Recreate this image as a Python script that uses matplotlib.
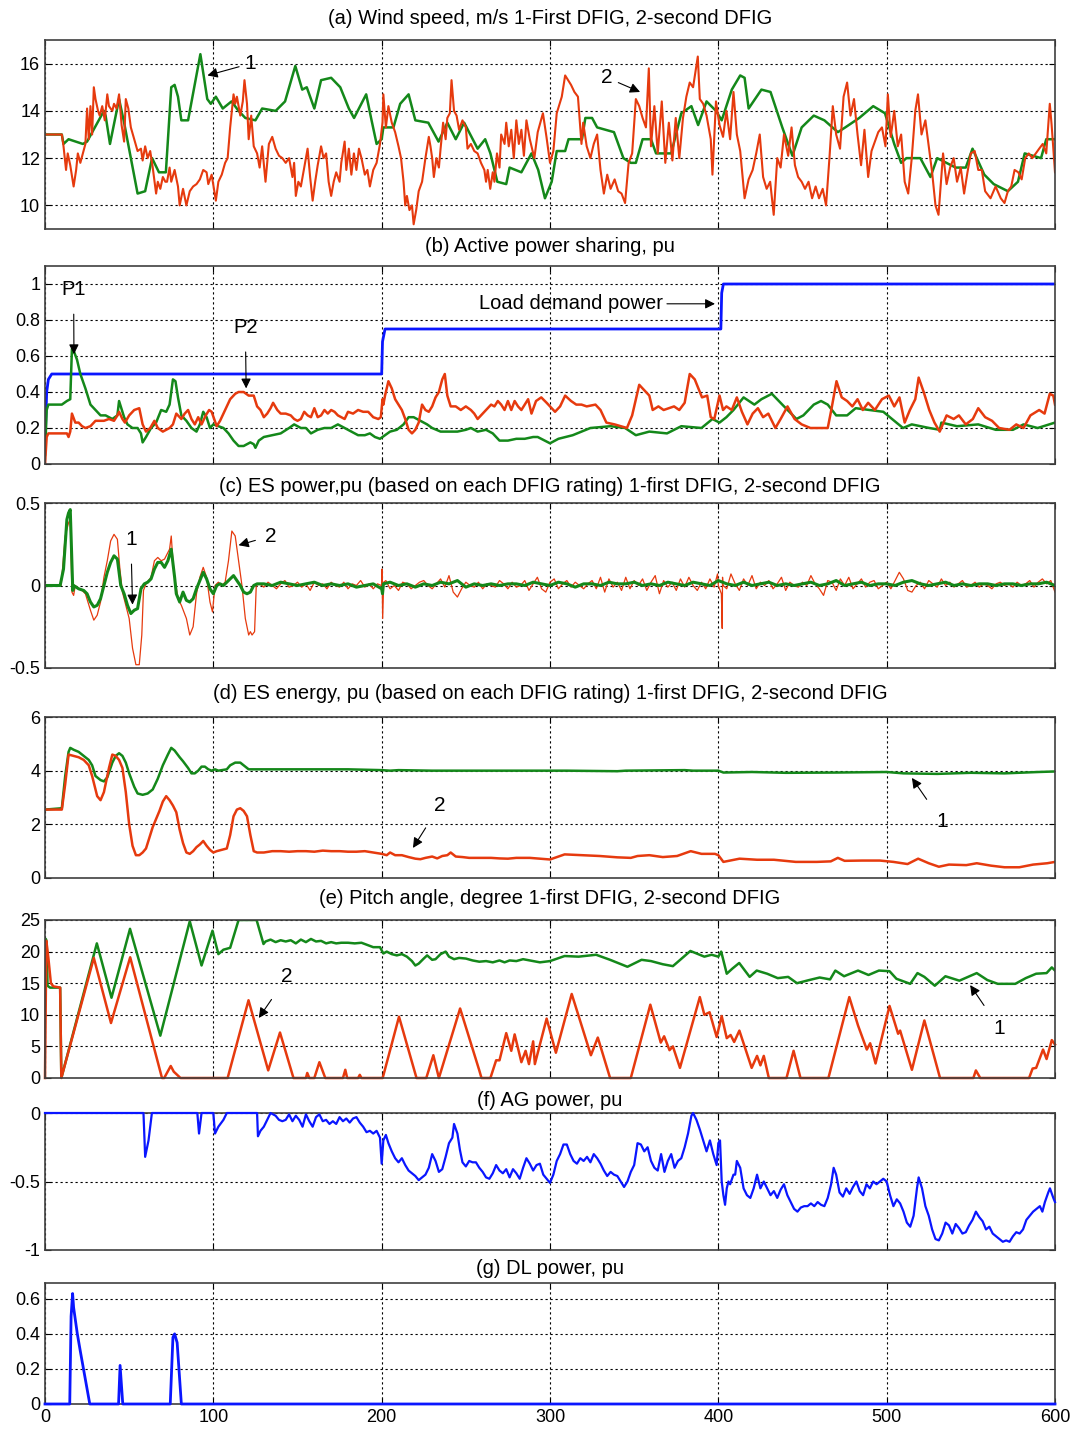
import numpy as np
import matplotlib.pyplot as plt
from matplotlib.ticker import FuncFormatter

plt.rcParams['font.family'] = ['Liberation Sans', 'DejaVu Sans']

RED = '#e63a0e'
GREEN = '#14881a'
BLUE = '#0a16ff'

# ---------------- (a) wind speed, m/s ----------------
wind1 = [(0, 13.0), (10, 13.0), (11, 12.6), (14, 12.8), (22.5, 12.6), (25, 12.7), (35, 14.0), (36, 13.8),
         (38.6, 12.6), (44, 14.5), (47, 13.5), (55, 10.5), (59.5, 10.6), (63.6, 12.0), (67.7, 11.4),
         (71.8, 11.4), (75, 15.0), (77, 15.1), (79, 14.6), (81, 13.6), (85, 13.6), (92.3, 16.4),
         (96.4, 14.5), (98.5, 14.3), (101.5, 14.6), (105.6, 14.1), (110.8, 14.4), (115, 14.0),
         (119, 13.7), (125, 13.6), (129, 14.1), (137, 14.0), (142.6, 14.4), (148.7, 15.9), (152.8, 14.9),
         (155.5, 15.0), (160, 14.1), (164, 15.3), (170, 15.4), (175.4, 15.0), (180.5, 14.1), (183.6, 13.7),
         (190.8, 14.7), (194, 13.6), (197, 12.6), (200, 12.8), (201, 13.3), (207, 13.3), (211, 14.3),
         (216, 14.7), (220, 13.6), (227.7, 13.5), (233.8, 12.7), (239, 13.5), (244, 12.8), (249, 13.5),
         (257, 12.4), (261.5, 12.8), (264.6, 12.2), (268.7, 11.0), (274, 10.9), (276, 11.6), (283, 11.4),
         (289, 12.2), (293, 11.5), (297, 10.3), (301, 11.0), (304, 12.3), (309, 12.3), (311, 12.8),
         (319, 12.8), (321, 13.7), (325, 13.7), (328, 13.3), (338, 13.1), (343.6, 12.0), (348, 11.8),
         (351, 11.8), (355, 12.8), (360, 12.8), (363, 12.2), (372, 12.2), (378, 13.9), (384, 14.2),
         (388, 13.4), (393, 14.4), (398.6, 14.0), (402, 13.6), (408, 14.9), (413, 15.5), (415.6, 15.4),
         (418, 14.1), (425.6, 14.9), (431, 14.8), (438, 13.3), (444, 12.1), (449.5, 13.3), (456.7, 13.8),
         (463, 13.6), (471, 13.1), (475.4, 13.3), (483.7, 13.7), (492, 14.2), (499, 13.9), (504.5, 12.6),
         (508.6, 11.8), (511.7, 12.0), (520, 12.0), (526, 11.2), (530, 12.0), (541, 11.6), (547, 11.6),
         (551, 12.4), (558, 11.3), (563.6, 10.9), (572, 10.6), (578, 11.0), (582, 12.2), (591.7, 12.0),
         (594.8, 12.8), (600, 12.8)]

wind2 = [(0, 13.0), (10, 13.0), (11, 12.5), (12.5, 11.5), (13.5, 12.2), (15, 11.7), (17, 10.8), (18.5, 11.5),
         (19.5, 12.2), (21, 11.8), (22.5, 12.2), (24, 12.6), (25, 14.1), (26, 12.8), (27, 14.2), (28, 13.0),
         (29, 15.0), (30, 14.5), (31.5, 14.0), (32.5, 13.8), (34, 14.2), (35.5, 13.6), (37, 14.7), (38, 14.2),
         (40, 14.0), (41, 14.3), (42.5, 14.1), (44, 14.7), (45.5, 13.4), (47, 12.7), (48, 14.5), (49.5, 14.1),
         (51, 13.3), (53, 12.8), (55, 12.3), (57, 12.4), (58, 11.9), (59.5, 12.5), (61, 12.0), (62.5, 12.3),
         (64, 11.6), (66, 10.5), (67, 11.0), (68.5, 10.7), (70, 11.2), (71.5, 11.0), (72.5, 11.0), (74, 11.6),
         (75, 11.0), (77, 11.5), (79, 10.8), (80, 10.0), (82, 10.7), (84, 10.0), (86, 10.6), (88, 10.8),
         (90, 10.9), (92, 11.1), (94, 11.5), (96, 11.4), (97, 10.9), (99, 11.3), (101.5, 10.2), (103, 11.0),
         (105, 11.3), (107, 11.8), (108.5, 12.0), (110, 13.3), (112, 14.7), (113, 14.3), (114, 14.6),
         (116, 13.8), (117.5, 14.4), (118.5, 15.3), (120, 14.3), (121, 12.8), (122.5, 13.8), (124, 12.5),
         (126, 12.2), (127.5, 11.6), (129, 12.5), (131, 11.0), (133, 12.6), (135, 12.9), (137, 12.4),
         (139, 12.1), (141, 12.0), (143, 11.8), (145, 12.0), (147, 11.2), (148, 11.8), (149, 10.4),
         (150.5, 11.0), (152, 10.8), (154, 11.6), (156, 12.4), (157.5, 11.2), (159, 10.2), (160.5, 11.0),
         (162, 11.7), (164, 12.5), (165.5, 12.0), (167, 12.2), (168.5, 11.0), (170, 10.4), (171.5, 11.0),
         (173, 11.4), (175, 11.0), (176, 11.8), (178, 12.7), (179, 11.5), (180.5, 12.4), (182, 11.3),
         (183.5, 12.2), (185, 11.5), (186.5, 12.4), (188, 12.0), (190, 11.3), (191.5, 11.5), (193, 10.8),
         (195, 11.5), (197, 11.8), (199, 12.6), (200.5, 13.5), (201, 14.7), (202.5, 13.3), (204, 14.2),
         (206, 13.5), (208, 13.1), (210, 12.5), (211.5, 12.0), (213, 11.0), (214, 10.0), (215, 10.4),
         (216.5, 9.8), (218, 10.0), (219, 9.2), (220.5, 9.8), (222, 10.6), (224, 11.0), (226, 12.0),
         (228, 12.9), (229, 12.5), (230, 12.0), (231, 11.2), (232.5, 12.0), (234, 11.6), (235, 12.4),
         (236.5, 13.5), (238, 12.8), (239, 13.7), (240.5, 13.9), (241.5, 15.3), (243, 14.0), (244.5, 13.8),
         (246, 13.2), (248, 13.6), (250, 13.3), (251, 12.4), (253, 12.6), (255, 12.3), (257, 12.2),
         (259, 11.8), (261, 11.5), (262, 11.0), (263, 11.5), (264.5, 10.7), (266, 11.4), (267, 11.0),
         (268.5, 12.2), (270, 11.6), (271, 13.0), (273, 12.6), (274, 13.5), (275.5, 12.5), (277, 13.2),
         (278.5, 12.0), (280, 13.6), (281.5, 12.6), (283, 13.2), (284.5, 12.1), (286, 13.6), (288, 12.8),
         (290.7, 12.0), (292.7, 13.1), (295.8, 13.9), (297.9, 12.9), (300, 11.8), (302, 12.3), (304, 13.9),
         (307, 14.6), (309, 15.5), (312.5, 15.1), (314.5, 14.8), (316.6, 14.6), (318.7, 12.6), (319.7, 13.5),
         (321.8, 12.5), (324, 12.0), (326, 12.6), (328, 13.0), (330, 11.5), (332, 10.5), (334, 11.3),
         (336, 10.7), (338.4, 11.1), (340.5, 10.6), (342.5, 10.5), (344.6, 10.1), (346.7, 11.8),
         (348.8, 12.2), (351, 14.5), (353, 14.2), (355, 13.7), (357, 13.3), (358.7, 15.8), (360, 12.5),
         (362, 14.2), (364, 12.2), (366.4, 14.4), (368.5, 11.8), (370.6, 13.5), (372.7, 11.9), (374.7, 13.7),
         (376.8, 12.0), (379, 13.7), (381, 14.6), (383, 15.2), (385, 15.0), (387.8, 16.3), (389, 14.5),
         (391, 14.3), (393, 13.8), (395.5, 12.8), (396.5, 11.3), (398.6, 14.4), (400.7, 13.4), (402.8, 12.9),
         (404.8, 14.0), (407, 12.8), (409, 14.8), (411, 13.0), (413, 12.3), (415.6, 10.3), (418, 11.1),
         (420.4, 11.5), (422.5, 12.2), (424.6, 13.0), (426.6, 11.2), (428.7, 10.7), (430.8, 11.0),
         (432.9, 9.6), (435, 12.0), (437, 11.6), (439, 13.0), (441.5, 12.1), (443.5, 13.3), (445.5, 11.7),
         (447.4, 11.2), (449.5, 11.0), (451.5, 10.7), (453.6, 11.0), (455.7, 10.3), (457.8, 10.8),
         (459.8, 10.3), (462, 10.7), (464, 10.0), (466, 12.0), (468, 14.2), (470, 13.0), (472.3, 12.4),
         (474.4, 14.6), (476.5, 15.2), (478.5, 13.8), (480.6, 14.5), (482.7, 13.0), (484.8, 11.7),
         (486.8, 13.2), (489, 11.2), (491, 12.3), (493, 12.7), (495, 13.1), (497.2, 13.3), (499.3, 12.5),
         (500.7, 14.7), (502.4, 12.9), (504.5, 14.0), (506.6, 12.5), (508.6, 13.0), (510.7, 11.0),
         (512.8, 10.5), (514.9, 12.0), (517, 14.0), (518.6, 14.7), (520.7, 13.0), (523, 13.6), (525, 12.5),
         (527, 11.4), (529, 10.0), (530.8, 9.6), (533.5, 12.2), (535.6, 10.9), (537.7, 11.6), (539.8, 12.0),
         (541.8, 11.0), (544, 11.6), (546, 10.5), (548, 11.4), (550, 12.2), (552.3, 12.3), (554.4, 11.5),
         (556.5, 11.5), (558.5, 10.6), (561.7, 10.3), (564.7, 10.8), (567.8, 10.3), (570, 10.1), (572, 10.6),
         (574, 10.8), (576, 11.5), (578.2, 11.4), (580.2, 11.1), (582.3, 12.0), (584.4, 12.2), (586.5, 12.0),
         (588.6, 12.2), (590.6, 12.4), (592.7, 12.6), (594.8, 12.2), (596.9, 14.3), (598, 13.4), (600, 11.4)]

# ---------------- (b) active power sharing, pu ----------------
load_demand = [(0, 0.1), (1, 0.4), (2, 0.47), (4, 0.5), (200, 0.5), (200.5, 0.68), (202, 0.75),
               (401.5, 0.75), (402, 0.95), (403, 1.0), (600, 1.0)]

p1 = [(0, 0.05), (1, 0.3), (2, 0.33), (10, 0.33), (13, 0.35), (15, 0.36), (16, 0.64), (17, 0.63), (19, 0.58),
      (21, 0.5), (24, 0.42), (27, 0.33), (30, 0.3), (33, 0.27), (36, 0.27), (38, 0.26), (40, 0.25), (43, 0.27),
      (44, 0.35), (45, 0.32), (47, 0.26), (49, 0.22), (52, 0.2), (55, 0.2), (57, 0.17), (58, 0.12), (60, 0.15),
      (63, 0.2), (66, 0.23), (69, 0.3), (72, 0.29), (74, 0.33), (76, 0.47), (77.5, 0.46), (79, 0.37),
      (81, 0.27), (84, 0.24), (87, 0.2), (90, 0.18), (92, 0.22), (94, 0.29), (96, 0.26), (98, 0.2),
      (100, 0.22), (103, 0.21), (106, 0.2), (109, 0.17), (112, 0.13), (115, 0.1), (118, 0.1), (120, 0.11),
      (122, 0.12), (124, 0.11), (125, 0.09), (127, 0.13), (130, 0.15), (135, 0.16), (140, 0.17), (145, 0.2),
      (148, 0.22), (152, 0.2), (155, 0.2), (158, 0.17), (162, 0.19), (166, 0.2), (170, 0.2), (174, 0.22),
      (178, 0.2), (182, 0.18), (186, 0.16), (190, 0.16), (193, 0.17), (196, 0.15), (199, 0.14), (202, 0.16),
      (205, 0.18), (209, 0.19), (213, 0.22), (216, 0.26), (219, 0.26), (223, 0.24), (227, 0.22), (230, 0.2),
      (235, 0.18), (240, 0.18), (245, 0.18), (250, 0.19), (253, 0.2), (257, 0.18), (262, 0.19), (266, 0.17),
      (270, 0.13), (275, 0.13), (280, 0.14), (285, 0.14), (290, 0.15), (292.7, 0.15), (300, 0.115),
      (305, 0.14), (313.5, 0.16), (324, 0.2), (336, 0.21), (344.6, 0.2), (351, 0.16), (359, 0.18),
      (369.5, 0.17), (378, 0.21), (390, 0.2), (396.5, 0.25), (400.7, 0.23), (404.8, 0.26), (409, 0.3),
      (415, 0.37), (421.4, 0.33), (425.6, 0.36), (431.8, 0.39), (438, 0.33), (446.4, 0.25), (450.5, 0.27),
      (456.7, 0.33), (461, 0.35), (465, 0.33), (470, 0.27), (476.5, 0.27), (481.6, 0.31), (490, 0.3),
      (498, 0.29), (504.5, 0.24), (509.7, 0.2), (514.9, 0.22), (525.3, 0.2), (531.6, 0.19), (532.5, 0.23),
      (541.8, 0.21), (554.4, 0.22), (564.8, 0.19), (575, 0.19), (581.3, 0.22), (589.7, 0.2), (600, 0.23)]

p2 = [(0, 0.0), (0.5, 0.08), (1, 0.15), (2, 0.17), (13, 0.17), (14, 0.15), (15, 0.18), (16, 0.28), (18, 0.23),
      (20, 0.23), (22, 0.21), (24, 0.2), (27, 0.21), (30, 0.24), (35, 0.24), (38, 0.25), (41, 0.24), (43, 0.27),
      (44, 0.29), (46, 0.25), (47.5, 0.23), (50, 0.27), (53, 0.3), (56, 0.31), (58, 0.22), (60, 0.18),
      (62.5, 0.2), (65, 0.24), (67, 0.2), (70, 0.18), (72, 0.19), (74, 0.2), (76, 0.22), (78, 0.28), (81, 0.25),
      (83, 0.28), (85, 0.3), (87, 0.25), (89, 0.22), (91, 0.26), (93, 0.22), (95.5, 0.27), (97.5, 0.3),
      (99, 0.29), (100.5, 0.25), (102, 0.21), (104, 0.24), (106, 0.28), (108, 0.32), (110, 0.36), (113, 0.39),
      (115, 0.4), (118, 0.4), (121, 0.38), (124, 0.38), (126, 0.32), (128, 0.3), (130, 0.26), (132, 0.28),
      (134, 0.31), (135.5, 0.34), (138, 0.3), (140, 0.28), (143, 0.28), (146, 0.27), (148, 0.25), (150, 0.24),
      (152, 0.25), (154, 0.29), (156, 0.27), (158, 0.26), (160, 0.31), (162, 0.26), (164, 0.27), (166, 0.3),
      (168, 0.28), (170, 0.3), (172, 0.29), (174, 0.27), (176, 0.26), (178, 0.25), (180, 0.29), (183, 0.28),
      (186, 0.3), (189, 0.29), (192, 0.29), (195, 0.26), (198, 0.25), (199.5, 0.26), (200.5, 0.36), (201, 0.33),
      (202, 0.38), (204, 0.46), (206, 0.42), (208, 0.36), (210, 0.33), (212, 0.3), (214, 0.25), (216, 0.19),
      (218, 0.17), (220, 0.19), (222, 0.23), (224, 0.33), (226, 0.3), (228, 0.29), (230, 0.32), (232, 0.37),
      (234, 0.4), (236, 0.47), (237.5, 0.5), (239, 0.38), (241, 0.32), (244, 0.32), (247, 0.3), (250, 0.32),
      (253, 0.3), (255, 0.28), (257, 0.25), (260, 0.28), (262, 0.3), (265, 0.33), (267, 0.32), (269, 0.35),
      (271, 0.33), (273, 0.3), (275, 0.35), (277, 0.3), (279, 0.35), (281, 0.32), (283, 0.3), (285, 0.33),
      (287, 0.36), (289, 0.28), (291.7, 0.35), (294.8, 0.37), (298, 0.34), (300, 0.32), (303, 0.29),
      (306, 0.32), (309, 0.38), (312.5, 0.35), (315.6, 0.33), (318.7, 0.33), (321.8, 0.32), (327, 0.33),
      (330, 0.3), (333.5, 0.23), (338.4, 0.22), (345.7, 0.2), (348.8, 0.27), (353, 0.44), (356, 0.41),
      (359, 0.38), (361, 0.3), (364.4, 0.32), (367.5, 0.3), (370.6, 0.31), (373.7, 0.32), (376.8, 0.3),
      (380, 0.34), (383, 0.5), (386, 0.47), (390.3, 0.37), (393.4, 0.38), (395.5, 0.26), (397.6, 0.25),
      (400.7, 0.38), (402.8, 0.3), (404.8, 0.32), (408, 0.3), (411, 0.37), (414, 0.29), (417.3, 0.22),
      (420.4, 0.28), (423.5, 0.31), (426.6, 0.26), (429.7, 0.28), (433.9, 0.2), (437, 0.25), (441.1, 0.32),
      (445.3, 0.25), (449.5, 0.22), (454.7, 0.2), (465, 0.2), (467.1, 0.3), (470.2, 0.46), (473.3, 0.37),
      (476.5, 0.35), (479.6, 0.32), (482.7, 0.36), (485.8, 0.3), (489, 0.34), (493, 0.3), (497.2, 0.36),
      (501.3, 0.38), (504.5, 0.32), (507.6, 0.37), (510.7, 0.23), (513.8, 0.3), (517, 0.36), (519, 0.48),
      (522, 0.4), (525.3, 0.3), (528.4, 0.23), (531.5, 0.18), (535.6, 0.27), (539.8, 0.25), (542.9, 0.27),
      (547, 0.22), (551.2, 0.25), (554.4, 0.31), (558.5, 0.26), (562.6, 0.24), (566.8, 0.2), (573, 0.19),
      (577, 0.22), (581.3, 0.2), (585.4, 0.27), (590.6, 0.3), (593.8, 0.28), (596.9, 0.39), (599, 0.38),
      (600, 0.33)]

# ---------------- (c) ES power, pu ----------------
es_pow1_start = [(0, 0.0), (9, 0.0), (11, 0.1), (13, 0.4), (14, 0.44), (15, 0.46), (16.5, -0.03), (17, 0.0),
                 (20, -0.02), (23, -0.03), (25, -0.05), (27, -0.1), (29, -0.13), (31, -0.12), (33, -0.08),
                 (35, 0.0), (37, 0.08), (39, 0.14), (41, 0.18), (43, 0.16), (45, 0.0), (47, -0.05), (49, -0.12),
                 (51, -0.17), (53, -0.15), (55, -0.14), (57, -0.02), (59, 0.01), (61, 0.02), (63, 0.04),
                 (65, 0.1), (67, 0.14), (69, 0.14), (71, 0.11), (73, 0.15), (75, 0.22), (77, 0.05), (78, -0.05),
                 (80, -0.1), (82, -0.04), (84, -0.09), (86, -0.1), (88, -0.08), (90, -0.02), (92, 0.03),
                 (94, 0.08), (96, 0.04), (98, -0.02), (100, -0.05), (102, 0.0), (104, 0.01), (106, 0.0),
                 (108, 0.02), (110, 0.04), (112, 0.06), (114, 0.03), (116, 0.0), (118, -0.04), (120, -0.05),
                 (122, -0.04), (124, 0.0), (126, 0.01), (200.5, -0.05), (201, 0.01)]
es_pow1_noise = [0.01, 0.0, 0.02, 0.01, 0.0, 0.01, 0.02, 0.0, 0.01, 0.0,
                 0.01, -0.01, 0.0, 0.01, -0.02, 0.02, 0.0, 0.01, -0.01, 0.01,
                 0.0, 0.02, 0.01, 0.03, -0.01, 0.01, 0.0, 0.01, 0.0, 0.01,
                 0.01, 0.0, 0.02, 0.01, 0.0, 0.02, 0.01, -0.01, 0.01, 0.01,
                 0.0, 0.02, 0.01, 0.01, 0.02, 0.0, 0.01, 0.0, 0.02, 0.01,
                 0.0, 0.02, 0.01, 0.0, 0.03, 0.01, 0.0, 0.02, 0.0, 0.01,
                 0.02, 0.0, 0.01, 0.0, 0.01, 0.02, 0.0, 0.01, 0.03, 0.0,
                 0.01, 0.02, 0.0, 0.01, 0.01, 0.0, 0.02, 0.03, 0.01, 0.0,
                 0.01, 0.02, 0.0, 0.01, 0.0, 0.01, 0.01, 0.0, 0.01, 0.01,
                 0.0, 0.01, 0.01, 0.02, 0.0]
es_pow1_noise_t = np.arange(130, 600.1, 5)

es_pow2_start = [(0, 0.0), (9.5, 0.0), (10, 0.05), (12, 0.3), (14, 0.38), (15, 0.4), (16, -0.04), (17, -0.06),
                 (18, 0.0), (20, -0.02), (22, -0.03), (24, -0.05), (27, -0.15), (29, -0.21), (31, -0.18),
                 (33, -0.1), (35, 0.05), (37, 0.15), (39, 0.27), (41, 0.31), (43, 0.28), (44.5, 0.1), (46, -0.04),
                 (48, -0.12), (50, -0.2), (52, -0.38), (54, -0.48), (56, -0.48), (57.5, -0.3), (58.5, -0.03),
                 (60, 0.01), (63, 0.05), (65, 0.15), (67, 0.17), (69, 0.15), (71, 0.16), (73, 0.2), (74, 0.22),
                 (75, 0.3), (76, 0.15), (77, 0.05), (79, -0.08), (81, -0.12), (84, -0.2), (86, -0.3), (88, -0.25),
                 (90, -0.05), (92, 0.05), (94, 0.11), (96, 0.05), (98, -0.1), (99.5, -0.16), (101, 0.0),
                 (103, 0.02), (105, 0.0), (107, 0.02), (109, 0.15), (111, 0.33), (113, 0.3), (115, 0.15),
                 (117, 0.0), (119, -0.2), (121, -0.3), (122, -0.28), (123, -0.3), (124.5, -0.28), (125.5, 0.0),
                 (199.8, 0.0), (200.2, 0.1), (200.6, -0.2), (201.2, 0.02),
                 (399.5, 0.07), (401.8, -0.05), (402.3, -0.26), (402.8, 0.0)]
es_pow2_noise = [0.01, -0.01, 0.02, 0.0, -0.02, 0.01, 0.03, -0.01, 0.0, 0.02,
                 -0.01, 0.01, -0.03, 0.02, 0.0, 0.01, -0.02, 0.02, 0.0, -0.01,
                 0.02, -0.02, 0.01, 0.0, 0.03, -0.01, 0.01, -0.02, 0.01, 0.0,
                 0.03, -0.02, 0.0, -0.03, 0.02, 0.01, -0.02, 0.0, 0.02, 0.03,
                 0.0, -0.02, 0.01, 0.04, -0.01, 0.06, -0.04, -0.07, -0.02, 0.02,
                 0.0, -0.01, 0.02, -0.02, 0.01, 0.0, -0.01, 0.03, 0.01, -0.02,
                 0.02, -0.01, 0.0, 0.03, -0.03, 0.01, 0.05, -0.02, -0.04, 0.02,
                 0.04, -0.02, 0.01, 0.03, -0.01, 0.02, 0.0, -0.02, 0.01, 0.03,
                 -0.02, 0.05, -0.04, 0.04, -0.01, 0.02, -0.03, 0.05, -0.02, 0.03,
                 0.0, 0.04, -0.03, 0.02, 0.06, -0.05, 0.03, -0.01, 0.02, -0.03,
                 0.04, -0.01, 0.05, 0.0, -0.03, 0.02, -0.02, 0.04, -0.01, 0.0,
                 0.05, -0.02, 0.07, 0.01, -0.03, 0.04, 0.0, 0.06, -0.02, 0.02,
                 0.0, 0.03, -0.02, 0.01, 0.05, -0.03, 0.02, 0.0, -0.01, 0.02,
                 0.0, 0.06, 0.01, -0.02, -0.06, 0.03, 0.02, -0.03, 0.04, 0.0,
                 0.05, -0.02, 0.01, 0.04, -0.01, 0.02, 0.03, -0.02, 0.0, 0.02,
                 -0.02, 0.03, 0.08, 0.04, -0.03, -0.04, 0.0, 0.02, -0.02, 0.03,
                 0.01, -0.01, 0.04, 0.0, 0.02, -0.01, 0.01, 0.03, -0.01, 0.0,
                 0.02, -0.01, 0.01, 0.0, -0.02, 0.01, 0.02, 0.0, 0.01, -0.01,
                 0.02, 0.0, 0.01, 0.03, -0.01, 0.02, 0.04, 0.01, 0.03, -0.04]
es_pow2_noise_t = np.arange(127.5, 600.1, 2.5)

# ---------------- (d) ES energy, pu ----------------
es_en1 = [(0, 2.55), (10, 2.6), (12, 3.8), (14, 4.7), (15, 4.85), (17, 4.78), (20, 4.7), (23, 4.55), (26, 4.4),
          (28, 4.2), (30, 3.8), (33, 3.65), (35, 3.6), (37, 3.75), (40, 4.3), (42, 4.55), (44, 4.65), (46, 4.55),
          (48, 4.3), (50, 3.9), (53, 3.4), (55, 3.15), (58, 3.1), (61, 3.15), (64, 3.3), (67, 3.7), (70, 4.2),
          (73, 4.6), (75, 4.85), (77, 4.75), (80, 4.5), (82, 4.35), (85, 4.1), (87, 3.9), (89, 3.9), (91, 4.0),
          (93, 4.15), (95, 4.15), (97, 4.05), (99, 4.0), (101, 4.05), (103, 4.0), (108, 4.05), (110, 4.2),
          (113, 4.3), (116, 4.3), (119, 4.15), (121, 4.05), (125, 4.05), (150, 4.05), (180, 4.05), (200, 4.02),
          (205, 4.0), (210, 4.02), (230, 4.0), (260, 4.0), (290, 4.0), (310, 4.0), (340, 3.98), (345, 4.0),
          (380, 4.02), (385, 4.0), (400, 4.0), (403, 3.93), (420, 3.95), (440, 3.92), (470, 3.93), (500, 3.95),
          (510, 3.9), (530, 3.88), (550, 3.92), (570, 3.9), (590, 3.95), (600, 3.97)]

es_en2 = [(0, 2.55), (10, 2.55), (12, 3.5), (14, 4.6), (17, 4.55), (20, 4.5), (23, 4.4), (26, 4.2), (28, 3.8),
          (31, 3.05), (33, 2.9), (35, 3.2), (38, 4.1), (40, 4.6), (42, 4.55), (44, 4.4), (46, 4.1), (48, 3.2),
          (50, 2.0), (52, 1.2), (54, 0.85), (56, 0.85), (58, 0.95), (60, 1.1), (62, 1.5), (64, 1.9), (66, 2.2),
          (68, 2.5), (70, 2.85), (72, 3.05), (74, 2.9), (76, 2.7), (78, 2.45), (80, 1.8), (82, 1.3), (84, 0.95),
          (86, 0.9), (88, 1.0), (90, 1.15), (92, 1.25), (94, 1.38), (96, 1.2), (98, 1.05), (100, 0.95),
          (102, 1.0), (105, 1.05), (108, 1.1), (110, 1.6), (112, 2.3), (114, 2.55), (116, 2.6), (118, 2.5),
          (120, 2.3), (122, 1.6), (124, 1.0), (126, 0.95), (130, 0.95), (135, 1.0), (140, 1.0), (145, 0.98),
          (150, 1.0), (155, 1.0), (160, 0.98), (165, 1.02), (170, 1.0), (175, 1.0), (180, 0.98), (185, 0.98),
          (190, 1.0), (195, 0.95), (200, 0.9), (203, 0.85), (205, 0.95), (208, 0.85), (212, 0.85), (216, 0.78),
          (220, 0.72), (223, 0.7), (226, 0.75), (230, 0.8), (233, 0.73), (236, 0.82), (239, 0.85), (241, 0.95),
          (244, 0.8), (248, 0.78), (252, 0.75), (260, 0.75), (265, 0.75), (270, 0.73), (275, 0.72), (280, 0.75),
          (288, 0.75), (300, 0.69), (308.7, 0.88), (319, 0.85), (329.5, 0.82), (340, 0.77), (348, 0.75),
          (352, 0.82), (359, 0.85), (367, 0.78), (375.5, 0.82), (383.6, 1.0), (390, 0.9), (398, 0.9), (400, 0.85),
          (403, 0.6), (412.6, 0.72), (423, 0.68), (433, 0.68), (446, 0.6), (458.5, 0.6), (466.8, 0.62),
          (471, 0.75), (475, 0.64), (485.5, 0.65), (496, 0.65), (504, 0.6), (512.4, 0.52), (518.7, 0.72),
          (525, 0.55), (531, 0.42), (537, 0.5), (547.3, 0.48), (553.5, 0.55), (562, 0.46), (570, 0.4),
          (578.8, 0.4), (587, 0.5), (595.4, 0.55), (600, 0.6)]

# ---------------- (e) pitch angle, degree ----------------
pitch1 = [(0, 14.0), (0.5, 22.0), (1, 21.5), (1.5, 14.6), (3, 14.3), (9, 14.3), (9.7, 0.0), (30.8, 21.3),
          (39.5, 12.7), (50.5, 23.6), (68.5, 6.7), (86, 24.8), (93, 17.8), (99.5, 23.3), (103, 19.6),
          (106, 20.3), (110, 20.6), (115, 25.0), (125.7, 25.0), (129.8, 21.2), (131, 21.6), (134, 21.9),
          (137, 21.5), (140, 21.8), (143, 21.6), (146, 21.8), (149, 21.3), (152, 21.9), (155, 21.5), (158, 22.0),
          (161, 21.6), (164, 21.7), (167, 21.3), (170, 21.5), (173, 21.3), (176, 21.4), (180, 21.4), (184, 21.3),
          (188, 21.4), (192, 21.0), (195, 20.7), (199, 20.7), (201, 19.7), (203, 20.0), (206, 19.6), (209, 19.4),
          (212, 19.6), (215, 19.2), (218, 18.5), (220, 17.8), (222, 18.1), (225, 18.9), (227, 19.4), (230, 18.7),
          (232, 18.8), (235, 19.6), (238, 20.0), (240, 19.2), (243, 18.8), (246, 19.0), (250, 18.9), (254, 18.6),
          (258, 18.4), (262, 18.5), (266, 18.3), (270, 18.6), (273, 18.3), (276, 18.6), (280, 18.5), (284, 18.8),
          (288, 18.6), (294, 18.3), (300, 18.5), (308.7, 19.3), (317, 19.2), (327.4, 19.5), (335.7, 18.7),
          (346, 17.6), (354.4, 18.7), (360, 18.5), (367, 18.0), (373, 17.7), (383.4, 20.1), (391.7, 19.2),
          (396, 19.5), (400, 19.2), (401.7, 20.0), (405, 16.5), (408.3, 17.3), (412.4, 18.2), (418.6, 16.0),
          (422.8, 17.0), (429, 16.5), (435.3, 15.8), (441.5, 16.0), (446.7, 15.0), (454, 15.5), (460.2, 15.9),
          (466.4, 15.6), (469.5, 17.0), (474.7, 16.1), (483, 17.0), (489.2, 16.3), (495.4, 17.0), (501.7, 16.9),
          (505.8, 15.7), (514, 14.9), (518.3, 16.6), (522.4, 16.0), (528.6, 14.6), (534.9, 16.1), (543.2, 15.4),
          (553.5, 16.6), (559.8, 15.5), (566, 14.9), (576.4, 14.9), (582.6, 15.8), (588.8, 16.5), (595, 16.6),
          (598.1, 17.5), (600, 17.0)]

pitch2 = [(0, 0.0), (0.8, 21.7), (2, 19.0), (3.5, 15.0), (5, 14.5), (9, 14.3), (9.7, 0.0), (29, 19.0),
          (39.2, 8.7), (50.6, 19.1), (69.5, 0.0), (70.8, 0.0), (74.7, 1.9), (76.5, 1.0), (80.5, 0.0),
          (108.5, 0.0), (120.9, 12.3), (132.6, 1.2), (139.6, 7.2), (147.6, 0.0), (155, 0.0), (155.8, 0.8),
          (157, 0.0), (160, 0.0), (163, 2.5), (166.5, 0.0), (177, 0.0), (178.4, 1.3), (179.5, 0.0), (186, 0.0),
          (187, 0.5), (188, 0.0), (200.6, 0.0), (210.3, 9.7), (220.7, 0.0), (226.5, 0.0), (230.7, 3.6),
          (234, 0.0), (246.6, 11.0), (258, 1.2), (259.3, 0.0), (264.6, 0.0), (268, 2.8), (270, 2.8), (274, 7.1),
          (277, 4.3), (279, 6.9), (283, 2.5), (285.5, 4.3), (287.5, 2.2), (290, 5.8), (291, 2.2), (298, 9.4),
          (303.5, 4.0), (312.9, 13.3), (324.3, 3.6), (328.4, 6.4), (335.7, 0.0), (348, 0.0), (359.6, 11.6),
          (365.8, 5.6), (367.8, 6.6), (371, 4.4), (373, 5.0), (377.2, 1.6), (389, 12.8), (391.7, 10.0),
          (394.8, 10.4), (399, 6.5), (402, 9.8), (405, 6.3), (407.3, 6.8), (409.4, 5.7), (412.5, 7.5),
          (419.8, 1.6), (423, 3.5), (425, 2.0), (427, 3.5), (430, 0.0), (440.5, 0.0), (444.7, 4.3),
          (448.8, 0.0), (465.4, 0.0), (477.8, 12.8), (483, 8.3), (488.2, 4.5), (490.2, 5.5), (493.4, 2.3),
          (501.7, 11.4), (506.8, 7.0), (508, 7.5), (515, 1.3), (522.4, 9.1), (531.7, 0.0), (551.5, 0.0),
          (553, 1.2), (555.6, 0.0), (584.6, 0.0), (586.7, 1.5), (588.8, 1.6), (592.9, 4.5), (595, 3.0),
          (598.1, 6.0), (600, 5.3)]

# ---------------- (f) AG power, pu ----------------
ag_power = [(0, 0.0), (58.5, 0.0), (59.5, -0.32), (61.5, -0.2), (63.5, 0.0), (90.5, 0.0), (91.5, -0.15),
            (93, 0.0), (100, 0.0), (101, -0.15), (103, -0.1), (106, -0.05), (108, 0.0), (126, 0.0),
            (126.5, -0.17), (128, -0.13), (130, -0.1), (132, -0.05), (134, 0.0), (137, -0.02), (139, -0.05),
            (141, -0.06), (143, -0.05), (145, -0.01), (147, -0.06), (149, -0.02), (151, -0.05), (153, -0.1),
            (155, -0.01), (157, -0.06), (159, -0.1), (161, -0.03), (163, -0.01), (165, -0.06), (167, -0.05),
            (169, -0.08), (171, -0.06), (173, -0.08), (175, -0.03), (177, -0.06), (179, -0.04), (181, -0.07),
            (183, -0.04), (185, -0.03), (187, -0.07), (189, -0.1), (191, -0.14), (193, -0.13), (195, -0.15),
            (197, -0.13), (199, -0.18), (200, -0.37), (201, -0.2), (202.5, -0.16), (204, -0.22), (206, -0.28),
            (208, -0.33), (210, -0.36), (212, -0.33), (214, -0.38), (216, -0.42), (218, -0.44), (220, -0.46),
            (222, -0.49), (224, -0.47), (226, -0.45), (228, -0.4), (230, -0.3), (232, -0.35), (234, -0.43),
            (236, -0.41), (238, -0.32), (240, -0.22), (242, -0.18), (243, -0.08), (245, -0.15), (246.5, -0.27),
            (248, -0.36), (250, -0.39), (252, -0.35), (254, -0.36), (256, -0.36), (258, -0.4), (260, -0.43),
            (262, -0.47), (264, -0.48), (266, -0.44), (268, -0.38), (270, -0.42), (272, -0.44), (274, -0.41),
            (276, -0.47), (278, -0.41), (280, -0.44), (282, -0.48), (284, -0.4), (286, -0.33), (288, -0.37),
            (290, -0.42), (292, -0.38), (294, -0.37), (296, -0.45), (298, -0.48), (300, -0.51), (302, -0.45),
            (304, -0.35), (306, -0.3), (308, -0.23), (310, -0.23), (312, -0.3), (314, -0.35), (316, -0.37),
            (318, -0.33), (320, -0.35), (322, -0.32), (324, -0.36), (326, -0.3), (328, -0.33), (330, -0.37),
            (332, -0.42), (334, -0.46), (336, -0.43), (338, -0.45), (340, -0.46), (342, -0.5), (344, -0.54),
            (346, -0.5), (348, -0.43), (350, -0.38), (352, -0.22), (354, -0.23), (356, -0.28), (358, -0.25),
            (360, -0.35), (362, -0.4), (364, -0.42), (366, -0.3), (368, -0.43), (370, -0.35), (372, -0.3),
            (374, -0.4), (376, -0.35), (378, -0.33), (380, -0.25), (382, -0.15), (384, -0.02), (385, 0.0),
            (387, -0.05), (389, -0.12), (391, -0.2), (393, -0.28), (395, -0.2), (397, -0.3), (399, -0.38),
            (400, -0.22), (401, -0.2), (402, -0.5), (403, -0.6), (404, -0.67), (405, -0.55), (406, -0.5),
            (407, -0.52), (409, -0.45), (410, -0.45), (411, -0.35), (413, -0.4), (415, -0.55), (417, -0.6),
            (419, -0.62), (421, -0.55), (423, -0.45), (425, -0.55), (427, -0.5), (429, -0.55), (431, -0.6),
            (433, -0.57), (435, -0.62), (437, -0.56), (439, -0.52), (441, -0.6), (443, -0.65), (445, -0.7),
            (447, -0.72), (449, -0.69), (451, -0.68), (453, -0.68), (455, -0.66), (457, -0.68), (459, -0.65),
            (461, -0.67), (463, -0.68), (465, -0.62), (467, -0.52), (468.5, -0.4), (470, -0.45), (472, -0.58),
            (474, -0.61), (476, -0.55), (478, -0.59), (480, -0.54), (482, -0.5), (484, -0.57), (486, -0.6),
            (488, -0.52), (490, -0.55), (492, -0.5), (494, -0.52), (496, -0.5), (498, -0.48), (500, -0.5),
            (502, -0.6), (504, -0.68), (506, -0.63), (508, -0.66), (510, -0.72), (512, -0.8), (514, -0.83),
            (516, -0.75), (518, -0.55), (519, -0.47), (521, -0.55), (523, -0.68), (525, -0.75), (527, -0.85),
            (529, -0.92), (531, -0.93), (533, -0.88), (535, -0.8), (537, -0.82), (539, -0.88), (541, -0.81),
            (543, -0.84), (545, -0.88), (547, -0.87), (549, -0.82), (551, -0.78), (553, -0.72), (555, -0.76),
            (557, -0.79), (559, -0.85), (561, -0.83), (563, -0.88), (565, -0.9), (567, -0.92), (569, -0.94),
            (571, -0.93), (573, -0.94), (575, -0.9), (577, -0.87), (579, -0.88), (581, -0.85), (583, -0.78),
            (585, -0.75), (587, -0.72), (589, -0.7), (591, -0.68), (592.5, -0.72), (594, -0.65), (596, -0.58),
            (597, -0.55), (599, -0.62), (600, -0.65)]

# ---------------- (g) DL power, pu ----------------
dl_power = [(0, 0.0), (14.7, 0.0), (15.5, 0.5), (16.4, 0.63), (17, 0.55), (19.2, 0.4), (21, 0.3), (26.6, 0.0),
            (43.7, 0.0), (44.6, 0.22), (46.2, 0.0), (74.4, 0.0), (76, 0.38), (77, 0.4), (78.5, 0.35),
            (81, 0.0), (600, 0.0)]

titles = ['(a) Wind speed, m/s 1-First DFIG, 2-second DFIG',
          '(b) Active power sharing, pu',
          '(c) ES power,pu (based on each DFIG rating) 1-first DFIG, 2-second DFIG',
          '(d) ES energy, pu (based on each DFIG rating) 1-first DFIG, 2-second DFIG',
          '(e) Pitch angle, degree 1-first DFIG, 2-second DFIG',
          '(f) AG power, pu',
          '(g) DL power, pu']
ylims = [(9, 17), (0, 1.1), (-0.5, 0.5), (0, 6), (0, 25), (-1, 0), (0, 0.69)]
yticks = [[10, 12, 14, 16], [0, 0.2, 0.4, 0.6, 0.8, 1], [-0.5, 0, 0.5], [0, 2, 4, 6],
          [0, 5, 10, 15, 20, 25], [-1, -0.5, 0], [0, 0.2, 0.4, 0.6]]
xticks = [0, 100, 200, 300, 400, 500, 600]


def xy(pairs):
    a = np.array(pairs, dtype=float)
    return a[:, 0], a[:, 1]


def merged(start, noise_t, noise_v):
    t0, v0 = xy(start)
    t = np.concatenate([t0, noise_t])
    v = np.concatenate([v0, noise_v])
    order = np.argsort(t, kind='stable')
    return t[order], v[order]


W, H = 1078, 1430
fig = plt.figure(figsize=(W / 100, H / 100), dpi=100)

# axes boxes in pixels: (top, bottom)
boxes = [(40, 229), (266, 464), (503, 668), (717, 878), (920, 1078), (1113, 1250), (1283, 1404)]
title_y = [18, 246, 487, 694, 898, 1100, 1268]
left, right = 45, 1055

axes = []
for (top, bot) in boxes:
    ax = fig.add_axes([left / W, 1 - bot / H, (right - left) / W, (bot - top) / H])
    axes.append(ax)

for i, ax in enumerate(axes):
    ax.set_xlim(0, 600)
    ax.set_ylim(*ylims[i])
    ax.set_xticks(xticks)
    ax.set_yticks(yticks[i])
    ax.yaxis.set_major_formatter(FuncFormatter(lambda v, p: '%g' % v))
    ax.grid(True, color='black', linestyle=(0, (2, 2.5)), linewidth=0.8)
    ax.set_axisbelow(True)
    ax.tick_params(direction='in', length=4, top=True, right=True, labelsize=13, width=0.8)
    if i < 6:
        ax.tick_params(labelbottom=False)
    for s in ax.spines.values():
        s.set_color('#404040')
        s.set_linewidth(1.2)
    fig.text(550 / W, 1 - title_y[i] / H, titles[i], ha='center', va='center', fontsize=14.5)

# (a)
ax = axes[0]
ax.plot(*xy(wind1), color=GREEN, lw=1.8)
ax.plot(*xy(wind2), color=RED, lw=1.5)
ax.annotate('1', xy=(96.5, 15.5), xytext=(122, 16.0), fontsize=15, ha='center', va='center',
            arrowprops=dict(arrowstyle='-|>', color='black', lw=0.8, shrinkB=0))
ax.annotate('2', xy=(353.5, 14.8), xytext=(334, 15.4), fontsize=15, ha='center', va='center',
            arrowprops=dict(arrowstyle='-|>', color='black', lw=0.8, shrinkB=0))

# (b)
ax = axes[1]
ax.plot(*xy(load_demand), color=BLUE, lw=2)
ax.plot(*xy(p1), color=GREEN, lw=1.8)
ax.plot(*xy(p2), color=RED, lw=1.8)
ax.annotate('P1', xy=(17.2, 0.61), xytext=(17, 0.97), fontsize=14.5, ha='center', va='center',
            arrowprops=dict(arrowstyle='-|>', color='black', lw=0.8, shrinkA=9, shrinkB=0))
ax.annotate('P2', xy=(119.5, 0.42), xytext=(119, 0.76), fontsize=14.5, ha='center', va='center',
            arrowprops=dict(arrowstyle='-|>', color='black', lw=0.8, shrinkA=9, shrinkB=0))
ax.annotate('Load demand power', xy=(398, 0.89), xytext=(367, 0.89), fontsize=14.5, ha='right', va='center',
            arrowprops=dict(arrowstyle='-|>', color='black', lw=0.8, shrinkA=1, shrinkB=0))

# (c)
ax = axes[2]
ax.plot(*merged(es_pow2_start, es_pow2_noise_t, es_pow2_noise), color=RED, lw=0.9)
ax.plot(*merged(es_pow1_start, es_pow1_noise_t, es_pow1_noise), color=GREEN, lw=2.2)
ax.annotate('1', xy=(52, -0.116), xytext=(51, 0.28), fontsize=15, ha='center', va='center',
            arrowprops=dict(arrowstyle='-|>', color='black', lw=0.8, shrinkA=9, shrinkB=0))
ax.annotate('2', xy=(115, 0.244), xytext=(134, 0.3), fontsize=15, ha='center', va='center',
            arrowprops=dict(arrowstyle='-|>', color='black', lw=0.8, shrinkA=5, shrinkB=0))

# (d)
ax = axes[3]
ax.plot(*xy(es_en1), color=GREEN, lw=1.8)
ax.plot(*xy(es_en2), color=RED, lw=1.8)
ax.annotate('2', xy=(218.6, 1.12), xytext=(234.7, 2.72), fontsize=15, ha='center', va='center',
            arrowprops=dict(arrowstyle='-|>', color='black', lw=0.8, shrinkA=9, shrinkB=0))
ax.annotate('1', xy=(515, 3.73), xytext=(533, 2.09), fontsize=15, ha='center', va='center',
            arrowprops=dict(arrowstyle='-|>', color='black', lw=0.8, shrinkA=9, shrinkB=0))

# (e)
ax = axes[4]
ax.plot(*xy(pitch1), color=GREEN, lw=1.8)
ax.plot(*xy(pitch2), color=RED, lw=1.8, clip_on=False)
ax.annotate('2', xy=(127, 9.5), xytext=(143.8, 16.0), fontsize=15, ha='center', va='center',
            arrowprops=dict(arrowstyle='-|>', color='black', lw=0.8, shrinkA=9, shrinkB=0))
ax.annotate('1', xy=(549.6, 14.7), xytext=(567, 7.9), fontsize=15, ha='center', va='center',
            arrowprops=dict(arrowstyle='-|>', color='black', lw=0.8, shrinkA=9, shrinkB=0))

# (f)
ax = axes[5]
ax.plot(*xy(ag_power), color=BLUE, lw=1.6, clip_on=False, zorder=3)

# (g)
ax = axes[6]
ax.plot(*xy(dl_power), color=BLUE, lw=2.0, clip_on=False, zorder=3)

fig.savefig('out.png', dpi=100)
